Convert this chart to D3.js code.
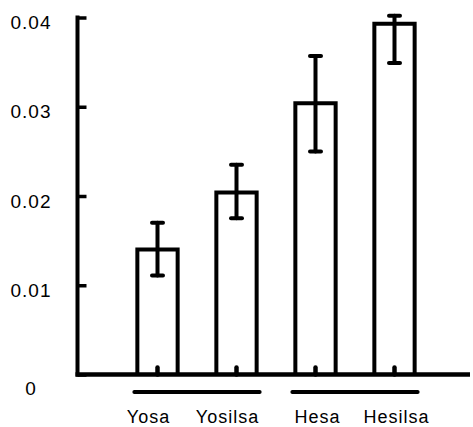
<!DOCTYPE html>
<html>
<head>
<meta charset="utf-8">
<script src="https://cdn.jsdelivr.net/npm/d3@7"></script>
<style>
  html, body { margin: 0; padding: 0; background: #fff; }
  svg { display: block; }
  text { font-family: "Liberation Sans", Arial, sans-serif; fill: #000; }
</style>
</head>
<body>
<svg id="chart" width="473" height="427"></svg>
<script>
// Group means and the lower/upper ends of their error bars
const categories = ["Yosa", "Yosilsa", "Hesa", "Hesilsa"];
const means      = [0.0140, 0.0204, 0.0304, 0.0393];
const errLow     = [0.0111, 0.0175, 0.0250, 0.0349];
const errHigh    = [0.0170, 0.0235, 0.0357, 0.0402];
const yTicks     = [0, 0.01, 0.02, 0.03, 0.04];
const yTickLabels = ["0", "0.01", "0.02", "0.03", "0.04"];
// Bracket lines under the axis join these pairs of categories
const groups = [["Yosa", "Yosilsa"], ["Hesa", "Hesilsa"]];

const svg = d3.select("#chart");
const INK = 4;

const x = d3.scaleBand()
  .domain(categories)
  .range([118, 434])
  .paddingInner(0.49)
  .paddingOuter(0.245);

const y = d3.scaleLinear()
  .domain([0, 0.04])
  .range([374.5, 17.5]);

const rows = categories.map((c, i) => ({
  cat: c, mean: means[i], lo: errLow[i], hi: errHigh[i]
}));

// Bars: open-bottomed outlines standing on the baseline
svg.append("g")
  .selectAll("path")
  .data(rows)
  .join("path")
  .attr("d", d => {
    const x0 = x(d.cat), x1 = x(d.cat) + x.bandwidth();
    return `M${x0},${y(0)}V${y(d.mean)}H${x1}V${y(0)}`;
  })
  .attr("fill", "#fff")
  .attr("stroke", "#000")
  .attr("stroke-width", INK)
  .attr("stroke-linejoin", "miter");

// Error bars
const eb = svg.append("g")
  .attr("stroke", "#000")
  .attr("stroke-width", INK)
  .attr("stroke-linecap", "round")
  .selectAll("g")
  .data(rows)
  .join("g")
  .attr("transform", d => `translate(${x(d.cat) + x.bandwidth() / 2},0)`);
eb.append("line")
  .attr("y1", d => y(d.lo)).attr("y2", d => y(d.hi));
eb.append("line")
  .attr("x1", -5.5).attr("x2", 5.5)
  .attr("y1", d => y(d.hi)).attr("y2", d => y(d.hi));
eb.append("line")
  .attr("x1", -5.5).attr("x2", 5.5)
  .attr("y1", d => y(d.lo)).attr("y2", d => y(d.lo));

// Y axis: ticks point into the plot, labels set out separately
const yAxis = svg.append("g")
  .attr("transform", `translate(77.5,0)`)
  .call(d3.axisLeft(y).tickValues(yTicks).tickSizeInner(-9).tickSizeOuter(0).tickFormat(""));
yAxis.select(".domain")
  .attr("stroke", "#000").attr("stroke-width", INK)
  .attr("d", `M0,${y(0.04) - 2}V${y(0) + 2}`);
yAxis.selectAll(".tick line").attr("stroke", "#000").attr("stroke-width", 3.5);

svg.append("g")
  .selectAll("text")
  .data(yTicks)
  .join("text")
  .attr("x", 31)
  .attr("y", d => y(d) + (d === 0 ? 13.5 : 5))
  .attr("dominant-baseline", "central")
  .attr("text-anchor", "middle")
  .style("font-size", "19px")
  .style("letter-spacing", "1px")
  .text((d, i) => yTickLabels[i]);

// X axis: long baseline with short upward ticks at each category
const xAxis = svg.append("g")
  .attr("transform", `translate(0,${y(0)})`)
  .call(d3.axisBottom(x).tickSizeInner(-7).tickSizeOuter(0).tickFormat(""));
xAxis.select(".domain")
  .attr("stroke", "#000").attr("stroke-width", INK + 0.5)
  .attr("d", `M75.5,0H470`);
xAxis.selectAll(".tick line")
  .attr("stroke", "#000").attr("stroke-width", 4.5).attr("stroke-linecap", "round");

// Grouping brackets below the axis
svg.append("g")
  .selectAll("line")
  .data(groups)
  .join("line")
  .attr("x1", g => x(g[0]) - 3)
  .attr("x2", g => x(g[1]) + x.bandwidth() + 3)
  .attr("y1", 392).attr("y2", 392)
  .attr("stroke", "#000")
  .attr("stroke-width", INK)
  .attr("stroke-linecap", "round");

// Category labels; the first pair sits a little left of its bars
svg.append("g")
  .selectAll("text")
  .data(categories)
  .join("text")
  .attr("x", (c, i) => x(c) + x.bandwidth() / 2 + (i < 2 ? -9 : 2))
  .attr("y", 423)
  .attr("text-anchor", "middle")
  .style("font-size", "18px")
  .style("letter-spacing", "1px")
  .text(c => c);
</script>
</body>
</html>
